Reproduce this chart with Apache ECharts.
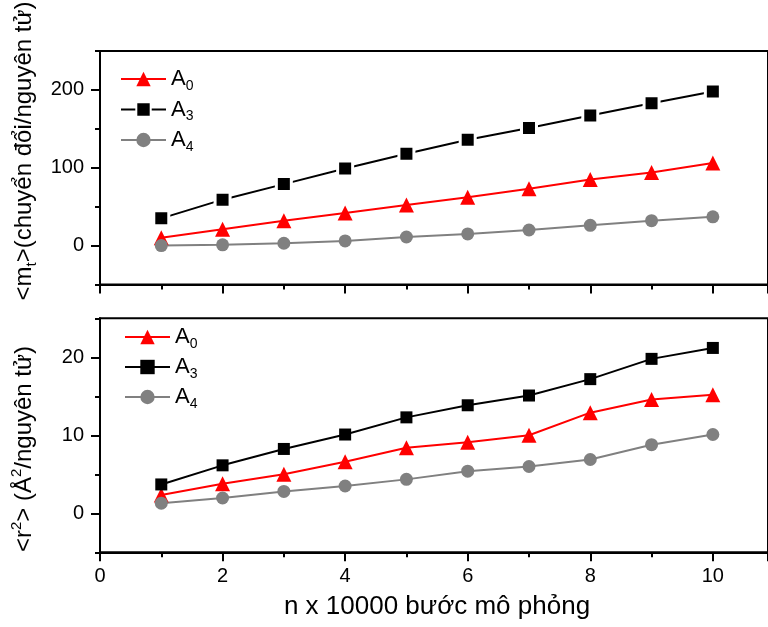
<!DOCTYPE html>
<html>
<head>
<meta charset="utf-8">
<script src="https://cdn.jsdelivr.net/npm/echarts@6/dist/echarts.min.js"></script>
<style>html,body{margin:0;padding:0;background:#fff;}#c{width:768px;height:627px;}</style>
</head>
<body>
<div id="c"></div>
<script>
// ---- data ----
const xValues = [1, 2, 3, 4, 5, 6, 7, 8, 9, 10];
const topA0 = [10, 21, 32, 42, 52, 62, 73, 85, 94, 106];
const topA3 = [35, 59, 79, 99, 118, 136, 151, 167, 183, 198];
const topA4 = [0, 1, 3, 6, 11, 15, 20, 26, 32, 37];
const botA0 = [2.35, 3.8, 5.0, 6.6, 8.4, 9.1, 10.0, 12.9, 14.6, 15.2];
const botA3 = [3.7, 6.15, 8.25, 10.1, 12.3, 13.85, 15.1, 17.2, 19.8, 21.2];
const botA4 = [1.3, 1.96, 2.8, 3.5, 4.35, 5.4, 6.0, 6.9, 8.8, 10.1];
const xTicks = [0, 2, 4, 6, 8, 10];
const topYTicks = [0, 100, 200];
const topYMinor = [-50, 50, 150, 250];
const botYTicks = [0, 10, 20];
const botYMinor = [-5, 5, 15, 25];
const seriesNames = ['A0', 'A3', 'A4'];
const xTitle = 'n x 10000 bước mô phỏng';

const FONT = 'Liberation Sans';
const pair = (ys) => xValues.map((x, i) => [x, ys[i]]);
const axisLineStyle = { show: true, onZero: false, lineStyle: { color: '#000', width: 2 } };

function xAxisCfg(gi, showLabel) {
  return {
    type: 'value', gridIndex: gi, min: 0, max: 10.9, interval: 2,
    axisLine: axisLineStyle,
    axisTick: { show: true, length: 9, lineStyle: { color: '#000', width: 2 } },
    minorTick: { show: true, splitNumber: 2, length: 5, lineStyle: { color: '#000', width: 2 } },
    axisLabel: { show: showLabel, customValues: xTicks, color: '#000', fontSize: 20, fontFamily: FONT, margin: 14 },
    splitLine: { show: false }, minorSplitLine: { show: false }
  };
}
function yAxisMain(gi, min, max, ticks) {
  return {
    type: 'value', gridIndex: gi, min: min, max: max,
    axisLine: axisLineStyle,
    axisTick: { show: true, customValues: ticks, length: 9, lineStyle: { color: '#000', width: 2 } },
    axisLabel: { customValues: ticks, color: '#000', fontSize: 20, fontFamily: FONT, margin: 16 },
    splitLine: { show: false }
  };
}
function yAxisMinor(gi, min, max, ticks) {
  return {
    type: 'value', gridIndex: gi, min: min, max: max, position: 'left', offset: 0,
    axisLine: { show: false, onZero: false },
    axisTick: { show: true, customValues: ticks, length: 5, lineStyle: { color: '#000', width: 2 } },
    axisLabel: { show: false },
    splitLine: { show: false }
  };
}

const colors = { A0: '#ff0000', A3: '#000000', A4: '#808080' };
const symbols = { A0: 'triangle', A3: 'rect', A4: 'circle' };
const sizes = { A0: 15, A3: 12, A4: 13 };

function mkSeries(name, data, xi, yi, gap, suffix) {
  return {
    name: name + suffix, type: 'line', xAxisIndex: xi, yAxisIndex: yi,
    data: pair(data), symbol: symbols[name], symbolSize: gap ? sizes[name] + 3 : sizes[name],
    lineStyle: { color: colors[name], width: 2 },
    itemStyle: gap ? { color: colors[name], borderColor: '#fff', borderWidth: 3 } : { color: colors[name] },
    z: 3, animation: false
  };
}

const legendRich = {
  a: { fontSize: 22, fontFamily: FONT, color: '#000', lineHeight: 28, verticalAlign: 'middle' },
  s: { fontSize: 14, fontFamily: FONT, color: '#000', lineHeight: 14, verticalAlign: 'bottom' }
};
const legendFmt = (n) => '{a|A}{s|' + n.trim().slice(1) + '}';

const titleRich = {
  m: { fontSize: 24, fontFamily: FONT, lineHeight: 30, verticalAlign: 'middle', fill: '#000' },
  s: { fontSize: 15, fontFamily: FONT, lineHeight: 15, verticalAlign: 'bottom', fill: '#000' },
  p: { fontSize: 15, fontFamily: FONT, lineHeight: 15, verticalAlign: 'top', fill: '#000' }
};

const option = {
  animation: false,
  backgroundColor: '#fff',
  grid: [
    { left: 100, top: 51, width: 669, height: 233.5, show: true, borderColor: '#000', borderWidth: 2, containLabel: false },
    { left: 100, top: 318.3, width: 669, height: 234, show: true, borderColor: '#000', borderWidth: 2, containLabel: false }
  ],
  xAxis: [xAxisCfg(0, false), xAxisCfg(1, true)],
  yAxis: [
    yAxisMain(0, -50, 250, topYTicks), yAxisMinor(0, -50, 250, topYMinor),
    yAxisMain(1, -5, 25, botYTicks), yAxisMinor(1, -5, 25, botYMinor)
  ],
  legend: [
    { data: seriesNames, orient: 'vertical', left: 115, top: 63, itemWidth: 45, itemHeight: 18, itemGap: 5.5,
      formatter: legendFmt, textStyle: { rich: legendRich }, selectedMode: false },
    { data: seriesNames.map(n => n + ' '), orient: 'vertical', left: 119, top: 321, itemWidth: 45, itemHeight: 18, itemGap: 5,
      formatter: legendFmt, textStyle: { rich: legendRich }, selectedMode: false }
  ],
  series: [
    mkSeries('A0', topA0, 0, 0, false, ''),
    mkSeries('A3', topA3, 0, 0, true, ''),
    mkSeries('A4', topA4, 0, 0, false, ''),
    mkSeries('A0', botA0, 1, 2, false, ' '),
    mkSeries('A3', botA3, 1, 2, false, ' '),
    mkSeries('A4', botA4, 1, 2, false, ' ')
  ],
  graphic: [
    { type: 'text', x: 24, y: 151, rotation: Math.PI / 2,
      style: { text: '{m|<m}{s|t}{m|>(chuyển đổi/nguyên tử)}', rich: titleRich, align: 'center', verticalAlign: 'middle', fill: '#000' } },
    { type: 'text', x: 24, y: 449, rotation: Math.PI / 2,
      style: { text: '{m|<r}{p|2}{m|> (Å}{p|2}{m|/nguyên tử)}', rich: titleRich, align: 'center', verticalAlign: 'middle', fill: '#000' } },
    { type: 'text', x: 437, y: 607,
      style: { text: xTitle, font: '26px "Liberation Sans"', align: 'center', verticalAlign: 'middle', fill: '#000' } }
  ]
};

const chart = echarts.init(document.getElementById('c'), null, { renderer: 'canvas' });
chart.setOption(option);
</script>
</body>
</html>
